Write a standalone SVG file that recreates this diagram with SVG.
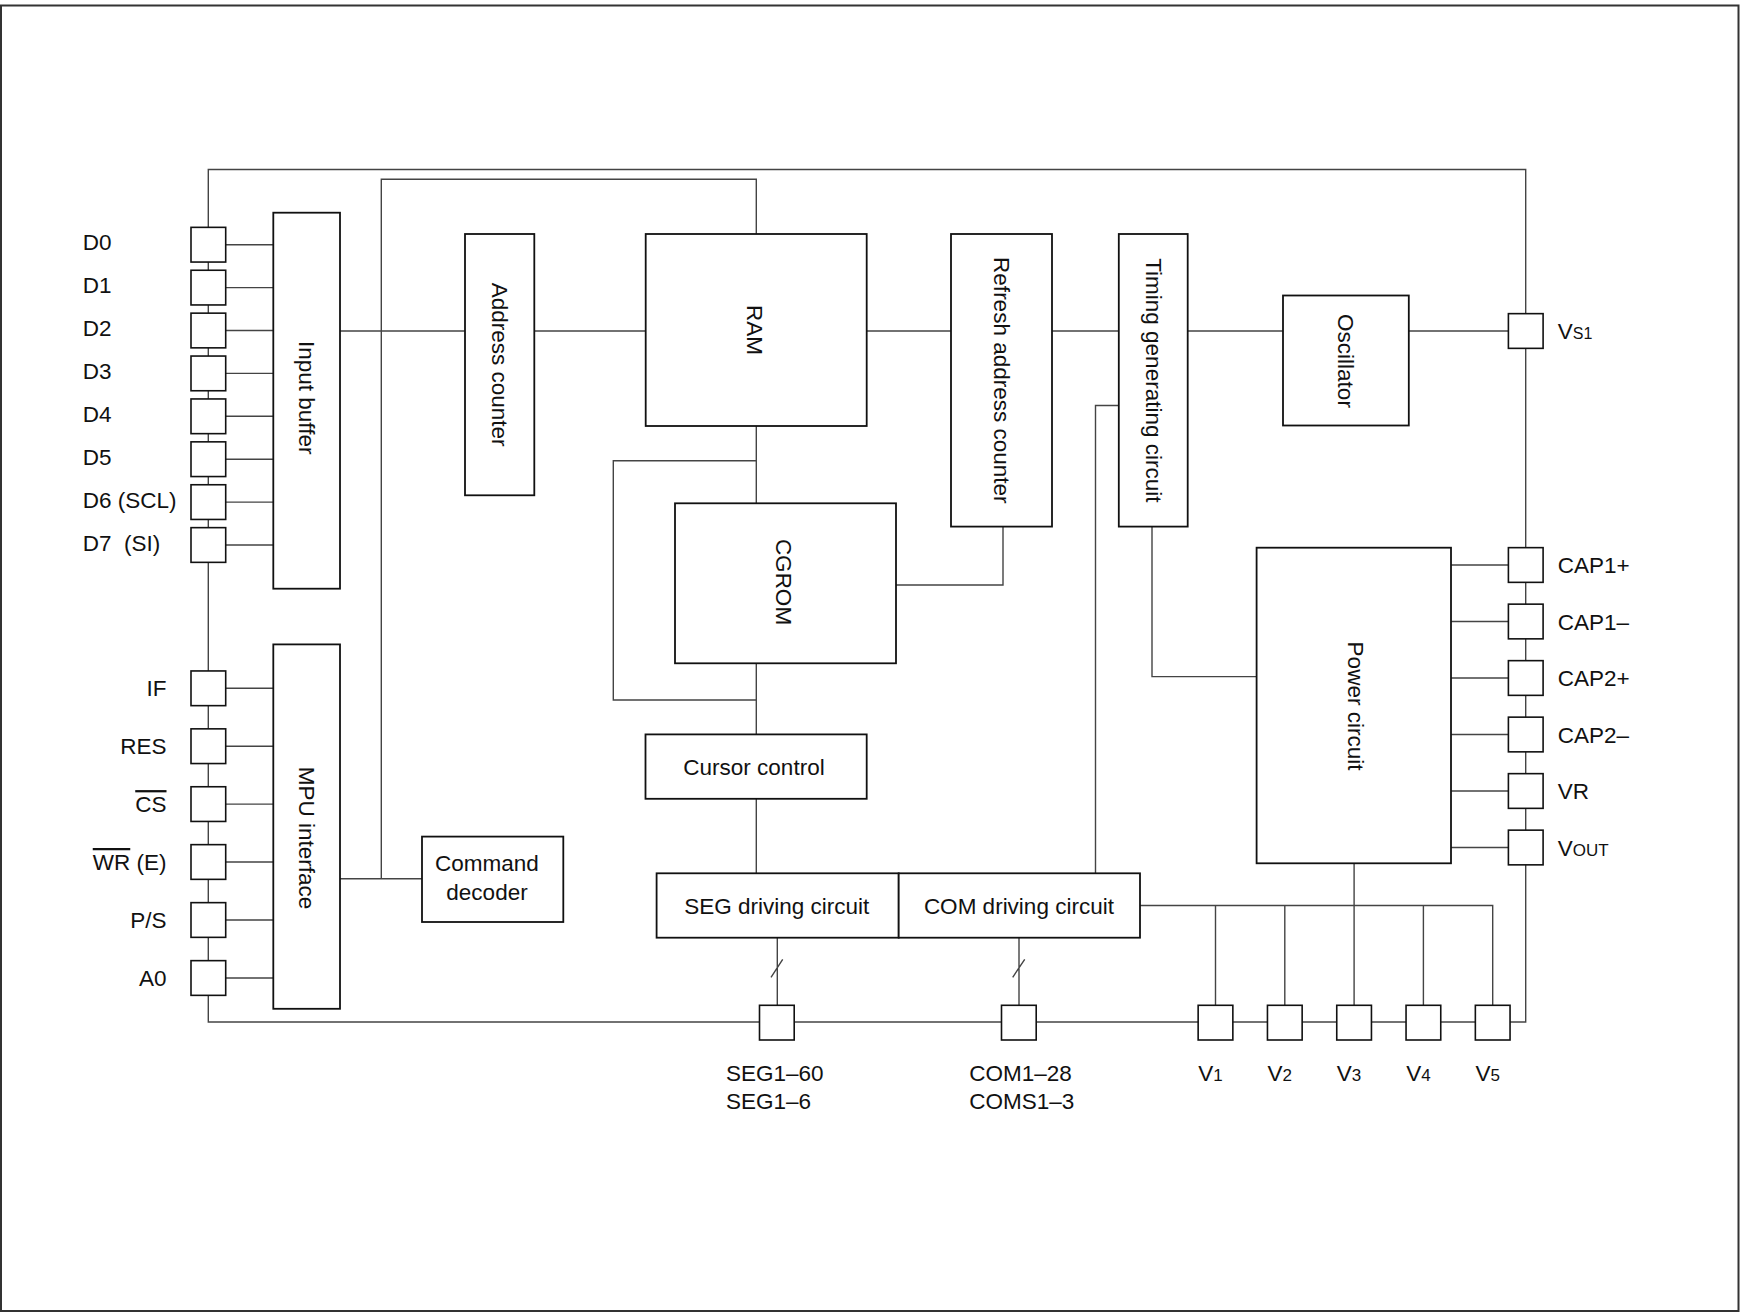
<svg xmlns="http://www.w3.org/2000/svg" width="1742" height="1313" viewBox="0 0 1742 1313">
<style>
.frame{fill:#fff;stroke:#333;stroke-width:2}
.box{fill:#fff;stroke:#111;stroke-width:1.8}
.pin{fill:#fff;stroke:#111;stroke-width:1.6}
.w{fill:none;stroke:#444;stroke-width:1.4}
.t{font-family:"Liberation Sans",Arial,sans-serif;font-size:22.5px;fill:#111}
.m{text-anchor:middle}
.e{text-anchor:end}
.s{font-size:17px}
.ss{font-size:16px}
.ov{text-decoration:overline}
</style>
<rect class="frame" x="1" y="5.5" width="1737.5" height="1305.5"/>
<g id="connectors">
<path class="w" d="M208.3 1022 V169.5 H1525.7 V1022 Z"/>
<path class="w" d="M381.3 878.8 V179.3 H756.3 V234"/>
<path class="w" d="M225.7 244.7 H273.3 M225.7 287.6 H273.3 M225.7 330.5 H273.3 M225.7 373.4 H273.3 M225.7 416.3 H273.3 M225.7 459.2 H273.3 M225.7 502.1 H273.3 M225.7 545 H273.3"/>
<path class="w" d="M225.7 688.3 H273.3 M225.7 746.2 H273.3 M225.7 804.1 H273.3 M225.7 862 H273.3 M225.7 920 H273.3 M225.7 978 H273.3"/>
<path class="w" d="M340 331 H465 M534.3 331 H645.7 M866.7 331 H951 M1052 331 H1118.8 M1187.7 331 H1283 M1408.8 331 H1508.4"/>
<path class="w" d="M756.3 426 V503.3 M756.3 460.7 H613.3 V700 H756.3 M756.3 663.3 V734.4 M756.3 798.8 V873.3"/>
<path class="w" d="M1003 526.6 V585 H896"/>
<path class="w" d="M1118.8 405.5 H1095.5 V873.3"/>
<path class="w" d="M1152 526.6 V676.6 H1256.6"/>
<path class="w" d="M1451 565 H1508.4 M1451 621.5 H1508.4 M1451 678 H1508.4 M1451 734.5 H1508.4 M1451 791 H1508.4 M1451 847.5 H1508.4"/>
<path class="w" d="M340 878.8 H422"/>
<path class="w" d="M1140 905.5 H1492.7 V1005.3 M1215.5 905.5 V1005.3 M1284.8 905.5 V1005.3 M1354.1 863.3 V1005.3 M1423.4 905.5 V1005.3"/>
<path class="w" d="M777.3 937.7 V1005.3 M771 977.3 L782.7 959.3 M1019 937.7 V1005.3 M1012.7 977.3 L1024.7 959.3"/>
</g>
<g id="input-buffer"><rect class="box" x="273.3" y="212.7" width="66.7" height="376"/><text class="t m" transform="translate(306.6 397.7) rotate(90)" dominant-baseline="central">Input buffer</text></g>
<g id="address-counter"><rect class="box" x="465" y="234" width="69.3" height="261.3"/><text class="t m" transform="translate(499.6 364.6) rotate(90)" dominant-baseline="central">Address counter</text></g>
<g id="ram"><rect class="box" x="645.7" y="234" width="221" height="192"/><text class="t m" transform="translate(754 330) rotate(90)" dominant-baseline="central">RAM</text></g>
<g id="refresh-address-counter"><rect class="box" x="951" y="234" width="101" height="292.6"/><text class="t m" transform="translate(1001.5 380.3) rotate(90)" dominant-baseline="central">Refresh address counter</text></g>
<g id="timing-generating-circuit"><rect class="box" x="1118.8" y="234" width="68.9" height="292.6"/><text class="t m" transform="translate(1153.2 380.3) rotate(90)" dominant-baseline="central">Timing generating circuit</text></g>
<g id="oscillator"><rect class="box" x="1283" y="295.5" width="125.8" height="130"/><text class="t m" transform="translate(1345.9 361) rotate(90)" dominant-baseline="central">Oscillator</text></g>
<g id="cgrom"><rect class="box" x="675" y="503.3" width="221" height="160"/><text class="t m" transform="translate(783 582) rotate(90)" dominant-baseline="central">CGROM</text></g>
<g id="cursor-control"><rect class="box" x="645.5" y="734.4" width="221.2" height="64.4"/><text class="t m" x="754" y="774.6">Cursor control</text></g>
<g id="seg-driving-circuit"><rect class="box" x="656.6" y="873.3" width="242.1" height="64.4"/><text class="t m" x="776.8" y="913.5">SEG driving circuit</text></g>
<g id="com-driving-circuit"><rect class="box" x="898.7" y="873.3" width="241.3" height="64.4"/><text class="t m" x="1018.9" y="913.5">COM driving circuit</text></g>
<g id="power-circuit"><rect class="box" x="1256.6" y="547.7" width="194.4" height="315.6"/><text class="t m" transform="translate(1355.5 706) rotate(90)" dominant-baseline="central">Power circuit</text></g>
<g id="mpu-interface"><rect class="box" x="273.3" y="644.4" width="66.7" height="364.4"/><text class="t m" transform="translate(306.6 838) rotate(90)" dominant-baseline="central">MPU interface</text></g>
<g id="command-decoder"><rect class="box" x="422" y="836.6" width="141.3" height="85.4"/><text class="t m" x="487" y="871">Command</text><text class="t m" x="487" y="900">decoder</text></g>
<g id="pin-d0"><rect class="pin" x="191" y="227.35" width="34.7" height="34.7"/><text class="t" x="82.7" y="250.2">D0</text></g>
<g id="pin-d1"><rect class="pin" x="191" y="270.25" width="34.7" height="34.7"/><text class="t" x="82.7" y="293.1">D1</text></g>
<g id="pin-d2"><rect class="pin" x="191" y="313.15" width="34.7" height="34.7"/><text class="t" x="82.7" y="336">D2</text></g>
<g id="pin-d3"><rect class="pin" x="191" y="356.05" width="34.7" height="34.7"/><text class="t" x="82.7" y="378.9">D3</text></g>
<g id="pin-d4"><rect class="pin" x="191" y="398.95" width="34.7" height="34.7"/><text class="t" x="82.7" y="421.8">D4</text></g>
<g id="pin-d5"><rect class="pin" x="191" y="441.85" width="34.7" height="34.7"/><text class="t" x="82.7" y="464.7">D5</text></g>
<g id="pin-d6"><rect class="pin" x="191" y="484.75" width="34.7" height="34.7"/><text class="t" x="82.7" y="507.6">D6 (SCL)</text></g>
<g id="pin-d7"><rect class="pin" x="191" y="527.65" width="34.7" height="34.7"/><text class="t" x="82.7" y="550.5" xml:space="preserve">D7  (SI)</text></g>
<g id="pin-if"><rect class="pin" x="191" y="670.95" width="34.7" height="34.7"/><text class="t e" x="166.5" y="696.3">IF</text></g>
<g id="pin-res"><rect class="pin" x="191" y="728.85" width="34.7" height="34.7"/><text class="t e" x="166.5" y="754.2">RES</text></g>
<g id="pin-cs"><rect class="pin" x="191" y="786.75" width="34.7" height="34.7"/><text class="t e" x="166.5" y="812.1"><tspan class="ov">CS</tspan></text></g>
<g id="pin-wr"><rect class="pin" x="191" y="844.65" width="34.7" height="34.7"/><text class="t e" x="166.5" y="870"><tspan class="ov">WR</tspan> (E)</text></g>
<g id="pin-ps"><rect class="pin" x="191" y="902.65" width="34.7" height="34.7"/><text class="t e" x="166.5" y="928">P/S</text></g>
<g id="pin-a0"><rect class="pin" x="191" y="960.65" width="34.7" height="34.7"/><text class="t e" x="166.5" y="986">A0</text></g>
<g id="pin-vs1"><rect class="pin" x="1508.4" y="313.65" width="34.7" height="34.7"/><text class="t" x="1557.7" y="339">V<tspan class="ss">S1</tspan></text></g>
<g id="pin-cap1p"><rect class="pin" x="1508.4" y="547.65" width="34.7" height="34.7"/><text class="t" x="1557.7" y="573">CAP1+</text></g>
<g id="pin-cap1m"><rect class="pin" x="1508.4" y="604.15" width="34.7" height="34.7"/><text class="t" x="1557.7" y="629.5">CAP1–</text></g>
<g id="pin-cap2p"><rect class="pin" x="1508.4" y="660.65" width="34.7" height="34.7"/><text class="t" x="1557.7" y="686">CAP2+</text></g>
<g id="pin-cap2m"><rect class="pin" x="1508.4" y="717.15" width="34.7" height="34.7"/><text class="t" x="1557.7" y="742.5">CAP2–</text></g>
<g id="pin-vr"><rect class="pin" x="1508.4" y="773.65" width="34.7" height="34.7"/><text class="t" x="1557.7" y="799">VR</text></g>
<g id="pin-vout"><rect class="pin" x="1508.4" y="830.15" width="34.7" height="34.7"/><text class="t" x="1557.7" y="855.5">V<tspan class="s">OUT</tspan></text></g>
<g id="pin-seg"><rect class="pin" x="759.5" y="1005.3" width="34.7" height="34.7"/><text class="t" x="726" y="1080.7">SEG1–60</text><text class="t" x="726" y="1109.3">SEG1–6</text></g>
<g id="pin-com"><rect class="pin" x="1001.5" y="1005.3" width="34.7" height="34.7"/><text class="t" x="969.3" y="1080.7">COM1–28</text><text class="t" x="969.3" y="1109.3">COMS1–3</text></g>
<g id="pin-v1"><rect class="pin" x="1198.15" y="1005.3" width="34.7" height="34.7"/><text class="t m" x="1210.5" y="1081">V<tspan class="s">1</tspan></text></g>
<g id="pin-v2"><rect class="pin" x="1267.45" y="1005.3" width="34.7" height="34.7"/><text class="t m" x="1279.8" y="1081">V<tspan class="s">2</tspan></text></g>
<g id="pin-v3"><rect class="pin" x="1336.75" y="1005.3" width="34.7" height="34.7"/><text class="t m" x="1349.1" y="1081">V<tspan class="s">3</tspan></text></g>
<g id="pin-v4"><rect class="pin" x="1406.05" y="1005.3" width="34.7" height="34.7"/><text class="t m" x="1418.4" y="1081">V<tspan class="s">4</tspan></text></g>
<g id="pin-v5"><rect class="pin" x="1475.35" y="1005.3" width="34.7" height="34.7"/><text class="t m" x="1487.7" y="1081">V<tspan class="s">5</tspan></text></g>
</svg>
